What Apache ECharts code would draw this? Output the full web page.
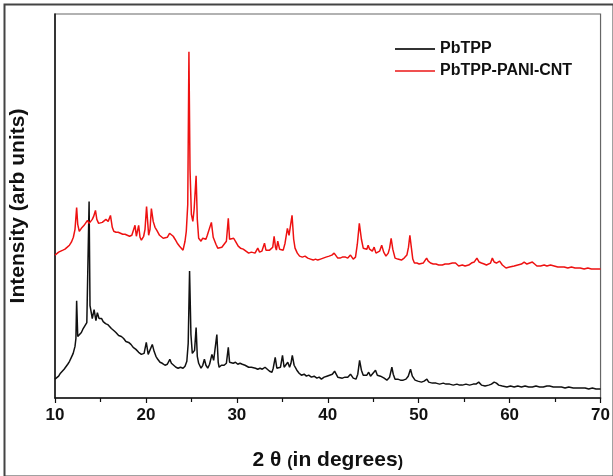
<!DOCTYPE html>
<html>
<head>
<meta charset="utf-8">
<script src="https://cdn.jsdelivr.net/npm/echarts@6/dist/echarts.min.js"></script>
<style>html,body{margin:0;padding:0;background:#fff}#c{width:613px;height:476px}</style>
</head>
<body>
<div id="c"></div>
<script>
// 2θ values (degrees) and intensities (arb units)
const pbtppX = [10.0,10.2,10.4,10.6,10.8,11.0,11.2,11.4,11.6,11.8,12.0,12.2,12.3,12.38,12.5,12.7,12.9,13.1,13.3,13.5,13.65,13.75,13.85,13.95,14.1,14.3,14.5,14.66,14.85,15.0,15.13,15.3,15.56,15.8,16.0,16.2,16.46,16.7,17.0,17.3,17.55,17.8,18.1,18.35,18.6,18.9,19.2,19.5,19.8,20.04,20.25,20.45,20.7,20.9,21.1,21.3,21.55,21.8,22.1,22.35,22.63,22.8,23.0,23.3,23.54,23.8,24.08,24.3,24.5,24.65,24.8,24.95,25.1,25.25,25.35,25.52,25.65,25.8,26.06,26.25,26.43,26.6,26.8,27.0,27.26,27.45,27.6,27.8,27.95,28.05,28.3,28.6,28.85,29.06,29.2,29.35,29.6,29.85,30.1,30.35,30.6,30.9,31.1,31.3,31.6,31.8,32.05,32.3,32.55,32.8,33.1,33.3,33.6,33.86,34.0,34.22,34.4,34.6,34.8,35.02,35.2,35.35,35.6,35.8,35.95,36.1,36.3,36.6,36.85,37.1,37.4,37.65,37.9,38.2,38.5,38.8,39.05,39.3,39.6,39.9,40.2,40.5,40.75,40.9,41.1,41.3,41.6,41.9,42.2,42.5,42.8,43.1,43.3,43.5,43.7,43.9,44.1,44.3,44.5,44.7,44.9,45.25,45.45,45.6,45.8,45.97,46.2,46.5,46.8,47.05,47.2,47.4,47.7,48.0,48.3,48.6,48.85,49.1,49.3,49.6,49.9,50.3,50.6,50.9,51.1,51.5,51.9,52.3,52.7,53.0,53.4,53.8,54.2,54.5,54.8,55.2,55.6,56.0,56.3,56.6,56.9,57.3,57.7,58.0,58.3,58.55,58.8,59.2,59.7,60.1,60.5,60.9,61.3,61.7,62.1,62.5,62.9,63.3,63.7,64.1,64.4,64.8,65.2,65.7,66.1,66.5,67.0,67.4,67.8,68.3,68.7,69.1,69.5,70.0];
const pbtppY = [19,21,22,25,27,29,31,34,37,41,45,52,60,98,62,61,66,70,73,76,78,198,93,88,80,89,78,86,80,79,80,77,75,74,73,70,68,66,63,62,60,57,56,54,51,49,46,44,45,56,44,46,54,47,42,39,36,35,33,34,39,35,33,31,30,31,30,32,37,55,128,64,45,44,48,71,42,35,30,33,39,33,30,34,44,38,36,64,36,31,33,33,35,51,36,34,35,36,34,35,34,33,32,31,31,30,30,29,30,29,31,29,27,26,30,41,30,28,31,43,31,29,36,31,35,43,33,28,25,23,24,22,23,21,22,20,21,19,21,22,23,24,27,28,21,19,20,21,21,24,20,19,24,38,28,23,22,23,26,22,21,28,23,21,22,24,20,18,21,31,24,19,19,18,18,19,22,29,22,18,17,16,17,19,16,15,15,14,15,14,14,13,14,13,13,14,13,14,14,16,13,12,13,14,16,15,13,12,11,12,11,12,11,12,11,11,12,11,11,12,12,11,11,11,10,11,10,10,10,10,9,10,9,9];

const compX = [10.0,10.2,10.4,10.6,10.87,11.1,11.35,11.59,11.8,12.02,12.2,12.38,12.5,12.67,12.9,13.2,13.4,13.57,13.75,13.9,14.1,14.25,14.45,14.6,14.8,15.0,15.2,15.4,15.6,15.85,16.1,16.3,16.46,16.7,16.95,17.2,17.45,17.7,17.95,18.2,18.45,18.65,18.8,18.95,19.2,19.35,19.5,19.75,19.9,20.07,20.3,20.45,20.6,20.8,21.0,21.2,21.5,21.7,21.9,22.1,22.35,22.6,22.8,23.0,23.2,23.45,23.7,23.9,24.08,24.3,24.44,24.6,24.73,24.85,25.0,25.16,25.3,25.52,25.65,25.8,26.06,26.25,26.4,26.6,26.75,26.95,27.2,27.4,27.7,27.9,28.07,28.35,28.6,28.85,29.06,29.2,29.4,29.65,29.9,30.15,30.4,30.7,31.0,31.3,31.6,31.8,32.0,32.3,32.5,32.75,33.04,33.2,33.4,33.6,33.8,33.95,34.1,34.25,34.35,34.5,34.7,34.9,35.1,35.3,35.56,35.74,36.07,36.25,36.4,36.65,36.9,37.2,37.5,37.8,38.1,38.4,38.65,38.9,39.2,39.5,39.8,40.15,40.45,40.7,40.87,41.1,41.35,41.6,41.95,42.2,42.5,42.8,43.05,43.25,43.47,43.7,43.9,44.1,44.3,44.44,44.6,44.75,44.9,45.1,45.3,45.45,45.7,45.93,46.15,46.4,46.65,46.8,46.97,47.15,47.4,47.7,48.1,48.4,48.7,48.88,49.03,49.2,49.35,49.53,49.8,50.05,50.25,50.5,50.7,50.87,51.05,51.3,51.6,51.9,52.2,52.6,52.9,53.3,53.7,54.05,54.4,54.8,55.1,55.5,55.8,56.1,56.4,56.65,56.9,57.2,57.45,57.65,57.9,58.1,58.3,58.55,58.9,59.2,59.6,60.0,60.5,60.9,61.3,61.6,61.9,62.2,62.5,62.75,63.0,63.4,63.8,64.1,64.5,64.9,65.3,65.7,66.0,66.4,66.8,67.2,67.76,68.2,68.6,69.0,69.5,70.0];
const compY = [144,145,147,146,149,150,152,154,157,162,170,192,175,168,171,174,176,179,176,178,180,183,189,180,176,178,177,179,180,178,184,172,168,167,167,166,165,165,164,163,164,163,174,163,174,162,159,163,170,193,164,170,191,178,172,169,164,162,161,160,162,166,164,163,160,156,153,151,149,158,168,195,349,230,185,178,190,224,180,161,158,161,163,160,164,165,177,162,155,151,150,152,155,158,181,160,159,161,157,153,151,150,148,146,147,146,146,151,147,148,156,149,147,149,150,152,163,152,149,158,150,151,149,156,171,164,184,160,151,146,143,142,143,141,140,139,140,139,140,141,142,143,144,146,148,141,141,142,142,141,144,140,142,155,176,160,151,149,150,154,150,149,148,152,146,144,148,154,147,143,146,151,161,150,141,140,139,141,144,152,164,151,140,136,136,135,135,136,138,141,138,136,135,135,134,134,135,135,136,136,133,134,133,134,136,137,141,137,136,135,134,133,136,141,137,136,138,134,131,132,133,134,135,137,135,136,137,135,133,133,134,133,134,133,132,132,132,131,132,131,131,130,131,130,130,130];

const seriesNames = ['PbTPP', 'PbTPP-PANI-CNT'];
const xTicks = [10, 20, 30, 40, 50, 60, 70];

const zip = (xs, ys) => xs.map((x, i) => [x, ys[i]]);

const chart = echarts.init(document.getElementById('c'), null, {renderer: 'canvas'});
const font = 'Arial, "Liberation Sans", sans-serif';
chart.setOption({
  animation: false,
  backgroundColor: '#fff',
  grid: {left: 50, right: 7, top: 14, bottom: 75, show: true, borderColor: '#666', borderWidth: 1.2},
  legend: {
    orient: 'vertical', left: 390, top: 36, itemWidth: 40, itemHeight: 2, itemGap: 6,
    icon: 'rect',
    textStyle: {fontFamily: font, fontWeight: 'bold', fontSize: 16, color: '#111'},
    data: seriesNames
  },
  xAxis: {
    type: 'value', min: xTicks[0], max: xTicks[xTicks.length - 1], interval: 10,
    name: '2 θ {s|(}in degrees{s|)}',
    nameLocation: 'middle', nameGap: 52,
    nameTextStyle: {fontFamily: font, fontWeight: 'bold', fontSize: 21, color: '#111',
      rich: {s: {fontFamily: font, fontWeight: 'bold', fontSize: 16, color: '#111', verticalAlign: 'bottom'}}},
    axisLine: {onZero: false, lineStyle: {color: '#111', width: 1.5}},
    axisTick: {show: true, inside: false, length: 5, lineStyle: {color: '#111', width: 1.2}},
    minorTick: {show: true, splitNumber: 2, length: 4, lineStyle: {color: '#111', width: 1.2}},
    axisLabel: {fontFamily: font, fontWeight: 'bold', fontSize: 17, color: '#111', margin: 9},
    splitLine: {show: false}
  },
  yAxis: {
    type: 'value', min: 0, max: 387,
    name: 'Intensity (arb units)', nameLocation: 'middle', nameGap: 26,
    nameTextStyle: {fontFamily: font, fontWeight: 'bold', fontSize: 21, color: '#111'},
    axisLine: {show: true, onZero: false, lineStyle: {color: '#111', width: 1.5}},
    axisTick: {show: false}, axisLabel: {show: false}, splitLine: {show: false}
  },
  graphic: [{
    type: 'rect', left: 2, top: 2, silent: true,
    shape: {x: 0, y: 0, width: 609, height: 472},
    style: {fill: 'none', stroke: '#444', lineWidth: 2}
  }],
  series: [
    {name: seriesNames[0], type: 'line', data: zip(pbtppX, pbtppY), symbol: 'none',
     lineStyle: {color: '#111', width: 1.5}, itemStyle: {color: '#333'}},
    {name: seriesNames[1], type: 'line', data: zip(compX, compY), symbol: 'none',
     lineStyle: {color: '#ee1111', width: 1.5}, itemStyle: {color: '#f05050'}}
  ]
});
</script>
</body>
</html>
